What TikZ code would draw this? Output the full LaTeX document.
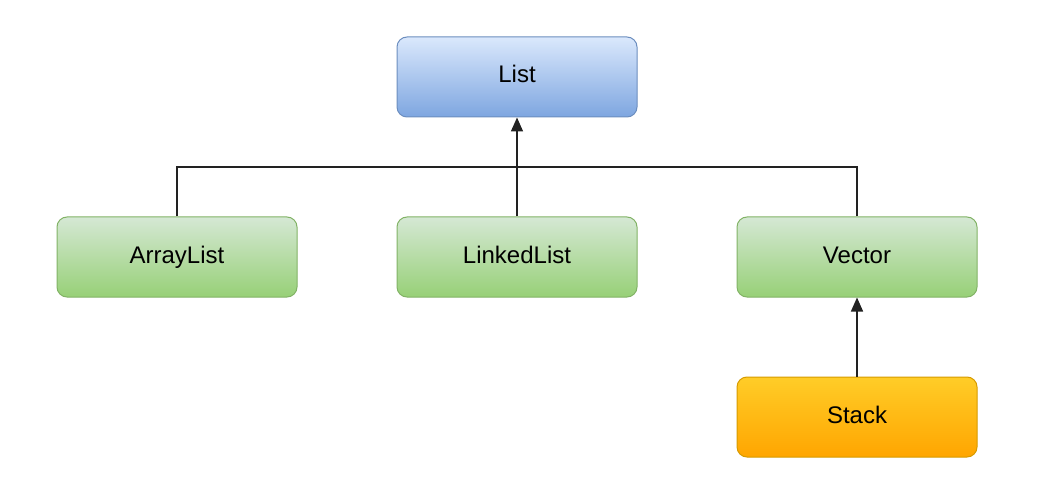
\documentclass[tikz,border=0pt]{standalone}
\usepackage{fontspec}
\setmainfont{Liberation Sans}
\usetikzlibrary{arrows.meta}
\definecolor{bluetop}{HTML}{DAE8FC}
\definecolor{bluebot}{HTML}{7EA6E0}
\definecolor{bluedraw}{HTML}{6C8EBF}
\definecolor{greentop}{HTML}{D5E8D4}
\definecolor{greenbot}{HTML}{97D077}
\definecolor{greendraw}{HTML}{82B366}
\definecolor{orangetop}{HTML}{FFCD28}
\definecolor{orangebot}{HTML}{FFA500}
\definecolor{orangedraw}{HTML}{D79B00}
\definecolor{edgecol}{HTML}{222222}
\tikzset{
  box/.style={rectangle, rounded corners=10pt, minimum width=240pt, minimum height=80pt,
    line width=1pt, font=\fontsize{24}{28}\selectfont, text=black, inner sep=0pt,
    text height=17pt, text depth=5pt},
  bluebox/.style={box, draw=bluedraw, top color=bluetop, bottom color=bluebot},
  greenbox/.style={box, draw=greendraw, top color=greentop, bottom color=greenbot},
  orangebox/.style={box, draw=orangedraw, top color=orangetop, bottom color=orangebot},
  line/.style={draw=edgecol, line width=1.5pt},
  conn/.style={line, -{Triangle[length=14pt,width=12pt]}},
}
\begin{document}
\begin{tikzpicture}[x=1pt,y=-1pt]
\useasboundingbox (0,0) rectangle (1048,486);
\fill[white] (0,0) rectangle (1048,486);
\node[bluebox] (list) at (517,77) {List};
\node[greenbox] (arraylist) at (177,257) {ArrayList};
\node[greenbox] (linkedlist) at (517,257) {LinkedList};
\node[greenbox] (vector) at (857,257) {Vector};
\node[orangebox] (stack) at (857,417) {Stack};
\coordinate (j1) at (177,167);
\coordinate (j2) at (857,167);
\coordinate (jm) at (517,167);
\draw[conn] (linkedlist.north) -- (list.south);
\draw[line] (arraylist.north) -- (j1) -- (jm);
\draw[line] (vector.north) -- (j2) -- (jm);
\draw[conn] (stack.north) -- (vector.south);
\end{tikzpicture}
\end{document}
